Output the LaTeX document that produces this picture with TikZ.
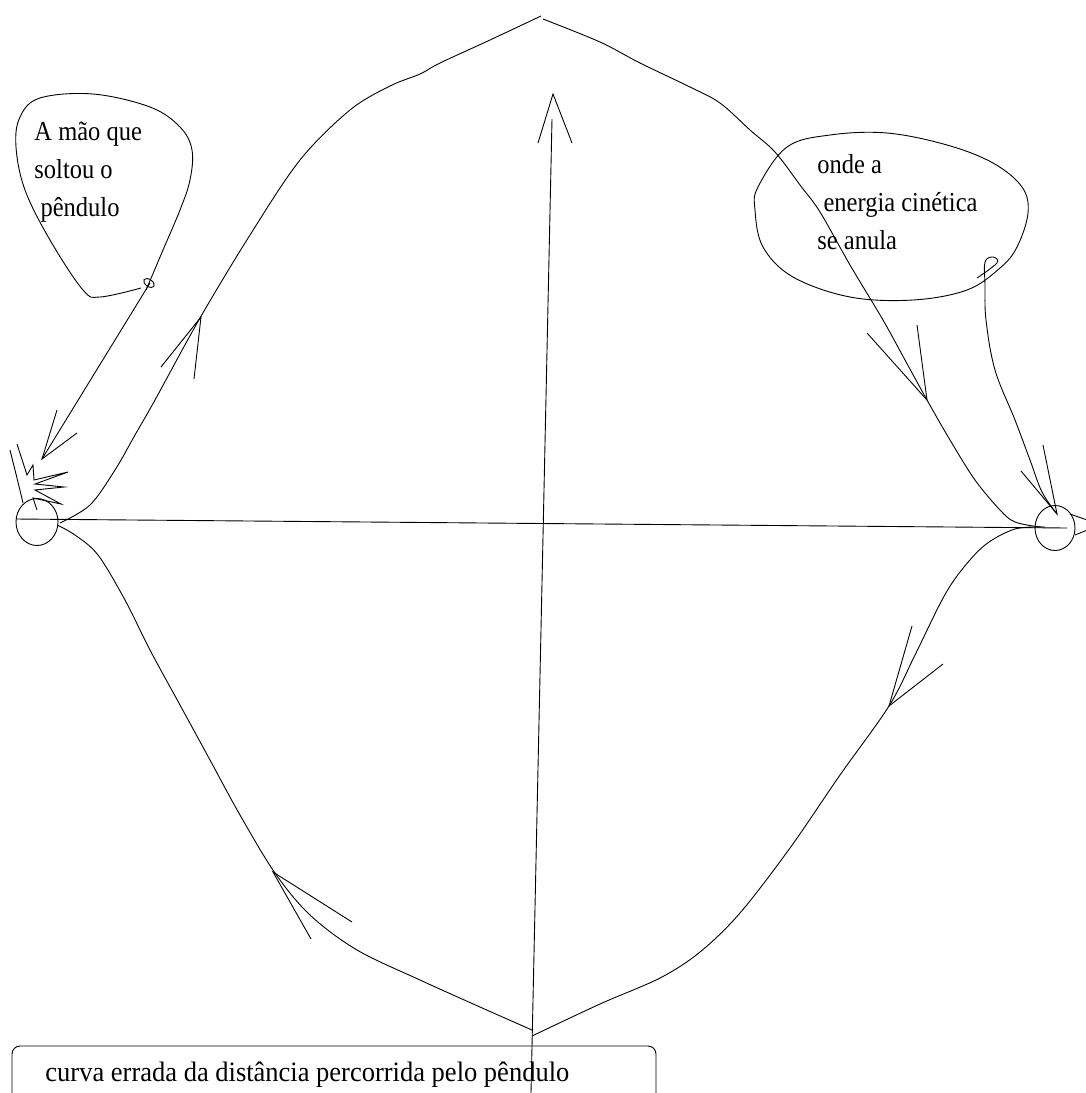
\documentclass[tikz,border=0pt]{standalone}
\usepackage{graphicx}
\usepackage{fontspec}
\setmainfont{Liberation Serif}
\usetikzlibrary{shapes.geometric}
\newcommand{\tline}[1]{\scalebox{1}[1.12]{#1}}
\begin{document}
\begin{tikzpicture}[x=1pt,y=-1pt,line width=0.9pt,
  lbl/.style={font=\fontsize{24.5}{38}\selectfont,align=left,anchor=north west,inner sep=0pt},
  curve/.style={line join=round}]
\useasboundingbox (0,0) rectangle (1086,1093);
% axes
\coordinate (hL) at (16,519);
\coordinate (hR) at (1067,528);
\draw (hL) -- (hR);
\coordinate (vT) at (552,119);
\coordinate (vB) at (531,1093);
\draw (vT) -- (vB);
\coordinate (vTip) at (553,94);
\draw (538,143) -- (vTip) -- (572,143);
% end circles
\node[draw,ellipse,minimum width=42pt,minimum height=47pt,inner sep=0pt] (cL) at (37,522) {};
\node[draw,ellipse,minimum width=40pt,minimum height=45pt,inner sep=0pt] (cR) at (1055,528) {};
\draw (1070,514) -- (1090,521);
\draw (1075,535) -- (1090,529);
% upper curve
\draw[curve] plot[smooth,tension=0.55] coordinates {(60,523) (90,505) (115,470) (135,435) (155,400) (200,318) (250,235) (300,160) (350,110) (390,86) (420,74) (440,63) (490,40) (541,16)};
\draw[curve] plot[smooth,tension=0.55] coordinates {(543,19) (600,42) (640,63) (690,87) (720,103) (750,130) (775,152) (800,185) (820,212) (850,265) (883,320) (905,360) (927,400) (950,440) (975,480) (1000,510) (1015,522) (1040,527)};
% lower curve
\draw[curve] plot[smooth,tension=0.55] coordinates {(57,525) (75,535) (98,555) (125,600) (150,650) (180,705) (210,760) (240,815) (275,873) (310,915) (357,950) (420,980) (480,1007) (532,1030)};
\draw[curve] plot[smooth,tension=0.55] coordinates {(532,1036) (600,1004) (660,978) (700,952) (740,913) (790,848) (840,775) (889,706) (915,655) (942,600) (960,572) (985,545) (1015,529) (1045,527)};
% arrowheads on curves
\draw (161,367) -- (201,317) -- (194,379);
\draw (867,333) -- (927,400) -- (917,325);
\draw (912,626) -- (889,706) -- (943,664);
\draw (352,922) -- (273,872) -- (311,939);
% left bubble
\draw[curve] plot[smooth,tension=0.6] coordinates {(141,288) (100,297) (83,290) (50,240) (25,190) (16,147) (20,117) (40,98) (93,94) (150,107) (180,127) (192,150) (190,180) (180,210) (163,250) (152,276) (146,290)};
\draw[rotate around={-35:(149,283)}] (149,283) ellipse [x radius=6, y radius=3.5];
\coordinate (tailL) at (150,283);
\coordinate (tipL) at (42,459);
\draw (tailL) -- (tipL);
\draw (57,410) -- (tipL) -- (77,433);
% scribbled hand
\draw (10,450) .. controls (15,470) and (20,490) .. (23,503);
\draw[line join=miter] (17,444) -- (27,475) -- (33,465) -- (34,480) -- (68,472) -- (35,484) -- (64,487) -- (35,490) -- (61,504) -- (33,498) -- (37,510);
% right bubble
\draw[curve] plot[smooth cycle,tension=0.6] coordinates {(758,187) (755,210) (763,247) (793,277) (850,297) (913,300) (967,290) (1000,268) (1017,247) (1028,213) (1022,187) (993,163) (947,145) (887,133) (830,135) (787,147)};
\coordinate (tipR) at (1057,514);
\draw[curve] plot[smooth,tension=0.6] coordinates {(977,278) (997,263) (993,257) (985,262) (985,285) (986,320) (995,370) (1015,420) (1030,460) (1042,492) (1057,514)};
\draw (1021,471) -- (tipR) -- (1043,445);
% texts
\node[lbl] (tA) at (34,122) {\tline{A mão que}\\\tline{soltou o}\\\tline{\ pêndulo}};
\node[lbl] (tB) at (817,154) {\tline{onde a}\\\tline{\ energia cinética}\\\tline{se anula}};
% bottom box
\draw[rounded corners=8pt] (12,1100) -- (12,1046) -- (656,1046) -- (656,1100);
\node[lbl,font=\fontsize{26.5}{38}\selectfont] (tC) at (45,1061) {\scalebox{1}[1.06]{curva errada da distância percorrida pelo pêndulo}};
\end{tikzpicture}
\end{document}
